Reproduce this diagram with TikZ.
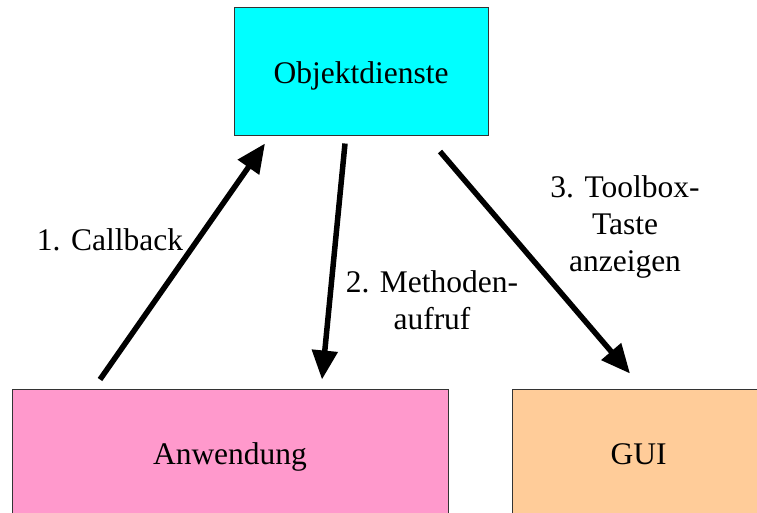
\documentclass[tikz,border=0pt]{standalone}
\usepackage{fontspec}
\setmainfont{Liberation Serif}
\usetikzlibrary{arrows.meta}
\definecolor{odcol}{HTML}{00FFFF}
\definecolor{anwcol}{HTML}{FF99CC}
\definecolor{guicol}{HTML}{FFCC99}
\tikzset{
  box/.style={draw=black!80, line width=1pt, inner sep=0pt, text height=24pt, text depth=0pt},
  arr/.style={line width=5.5pt, -{Triangle[length=29pt,width=25pt]}},
  lbl/.style={align=center, anchor=base, inner sep=0pt}
}
\begin{document}
\begin{tikzpicture}[x=1pt,y=-1pt,font=\fontsize{31.5}{37}\selectfont]
\useasboundingbox (0,0) rectangle (757,512);
\begin{scope}
\clip (0,0) rectangle (757,512);
\node[box, fill=odcol, minimum width=254pt, minimum height=128pt] (od) at (361,71) {Objektdienste};
\node[box, fill=anwcol, minimum width=436pt, minimum height=126pt] (anw) at (230,452) {Anwendung};
\node[box, fill=guicol, minimum width=253pt, minimum height=126pt] (gui) at (638.5,452) {GUI};
\end{scope}
\draw[arr] ([xshift=-130pt,yshift=9pt]anw.north) -- ([xshift=-96pt,yshift=-8pt]od.south);
\draw[arr] ([xshift=-16pt,yshift=-8pt]od.south) -- ([xshift=92pt,yshift=9pt]anw.north);
\draw[arr] ([xshift=79pt,yshift=-16pt]od.south) -- ([xshift=-8.5pt,yshift=15pt]gui.north);
\node[lbl] (l1) at (110,250) {1. Callback};
\node[lbl] (l2) at (432,329) {2. Methoden-\\aufruf};
\node[lbl] (l3) at (625,271) {3. Toolbox-\\Taste\\anzeigen};
\end{tikzpicture}
\end{document}
